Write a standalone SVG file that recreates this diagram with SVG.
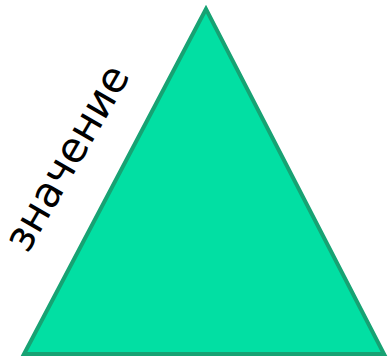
<svg xmlns="http://www.w3.org/2000/svg" width="388" height="360" viewBox="0 0 388 360">
<style>
.tri{fill:#02dfa3;stroke:#17a273;stroke-width:4;stroke-linejoin:miter}
.lbl{font-family:"DejaVu Sans",Verdana,sans-serif;font-size:42px;fill:#000}
</style>
<g id="triangle">
<polygon class="tri" points="206,9 24,354 384,354"/>
</g>
<g id="label">
<text class="lbl" x="0" y="0" text-anchor="middle" transform="translate(79,165) rotate(-60)">значение</text>
</g>
</svg>
